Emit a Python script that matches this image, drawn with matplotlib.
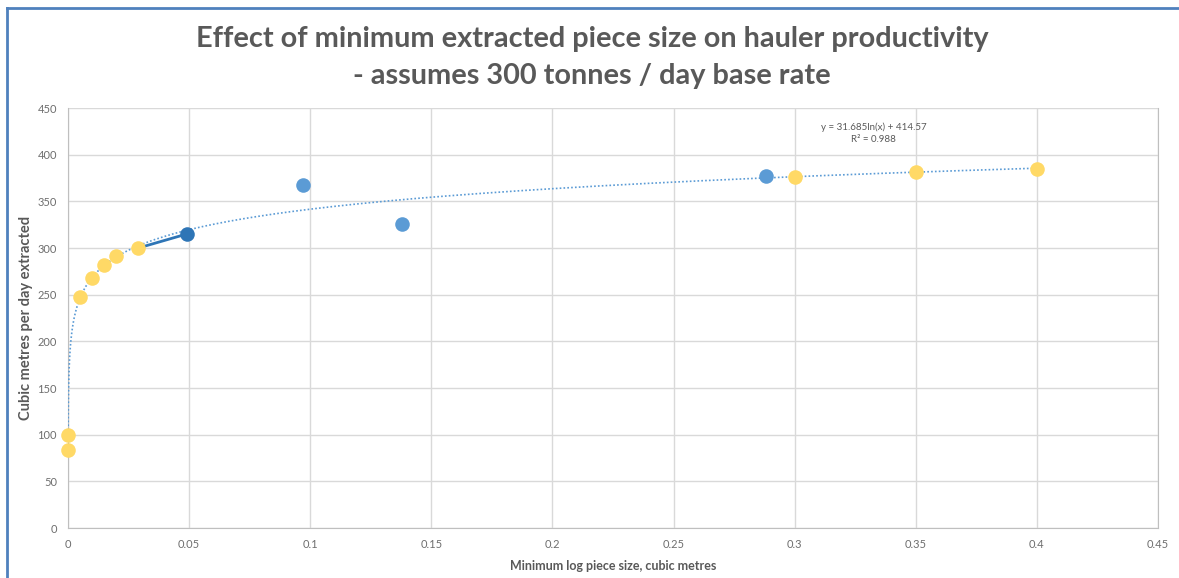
import matplotlib.pyplot as plt
import numpy as np
from matplotlib.lines import Line2D

# yellow series (small x at "0" read as tiny values so the log trend starts there)
yellow_x = [0.00005, 0.00003, 0.005, 0.01, 0.015, 0.02, 0.029, 0.3, 0.35, 0.4]
yellow_y = [100, 84, 247, 268, 282, 291, 300, 376, 381, 385]

# light blue series
blue_x = [0.097, 0.138, 0.288]
blue_y = [368, 326, 377]

# dark blue segment
dark_x = [0.029, 0.049]
dark_y = [300, 315]

# log trendline coefficients shown on chart
trend_a = 31.685
trend_b = 414.57
trend_text = "y = 31.685ln(x) + 414.57\nR² = 0.988"

plt.rcParams['font.family'] = ['Lato', 'DejaVu Sans']

fig = plt.figure(figsize=(11.79, 5.78), dpi=100)
ax = fig.add_axes([0.0577, 0.0865, 0.9245, 0.7266])

grid_c = '#d9d9d9'
text_c = '#595959'

tx = np.linspace(min(yellow_x), max(yellow_x), 4000)
tx = np.concatenate([np.geomspace(min(yellow_x), 0.005, 400), tx])
tx.sort()
ax.plot(tx, trend_a * np.log(tx) + trend_b, linestyle=(0, (1, 1.3)),
        color='#5b9bd5', linewidth=1.2, zorder=3)

ax.plot(dark_x, dark_y, color='#2e75b6', linewidth=2, zorder=3)
ax.scatter(dark_x[1:], dark_y[1:], s=110, color='#2e75b6', zorder=4, linewidths=0)
ax.scatter(blue_x, blue_y, s=110, color='#5b9bd5', zorder=4, linewidths=0)
ax.scatter(yellow_x, yellow_y, s=110, color='#ffd966', zorder=5, linewidths=0,
           clip_on=False)

ax.set_xlim(0, 0.45)
ax.set_ylim(0, 450)
ax.set_xticks(np.arange(0, 0.451, 0.05))
ax.set_xticklabels(['0', '0.05', '0.1', '0.15', '0.2', '0.25', '0.3', '0.35', '0.4', '0.45'])
ax.set_yticks(np.arange(0, 451, 50))
ax.grid(True, color=grid_c, linewidth=1)
ax.set_axisbelow(True)
ax.tick_params(length=0, labelsize=8, colors='#6e6e6e', pad=8)
ax.spines['top'].set_visible(False)
for s in ['left', 'bottom', 'right']:
    ax.spines[s].set_color('#bfbfbf')

ax.set_xlabel('Minimum log piece size, cubic metres', fontsize=9, fontweight='bold',
              color=text_c, labelpad=7)
ax.set_ylabel('Cubic metres per day extracted', fontsize=10.5, fontweight='bold',
              color=text_c)
ax.yaxis.set_label_coords(-0.032, 0.5)

ax.text(0.3325, 423, trend_text, fontsize=7, color=text_c, ha='center', va='center',
        linespacing=1.4)

fig.text(0.502, 0.932, 'Effect of minimum extracted piece size on hauler productivity',
         ha='center', va='center', fontsize=20.8, fontweight='bold', color=text_c)
fig.text(0.502, 0.869, '- assumes 300 tonnes / day base rate',
         ha='center', va='center', fontsize=20.8, fontweight='bold', color=text_c)

# frame lines of the chart box
fig.add_artist(Line2D([0.006, 0.006], [0, 0.987], transform=fig.transFigure,
                      color='#4f81bd', linewidth=2))
fig.add_artist(Line2D([0.006, 1], [0.987, 0.987], transform=fig.transFigure,
                      color='#4f81bd', linewidth=2))

fig.savefig('out.png', dpi=100)
